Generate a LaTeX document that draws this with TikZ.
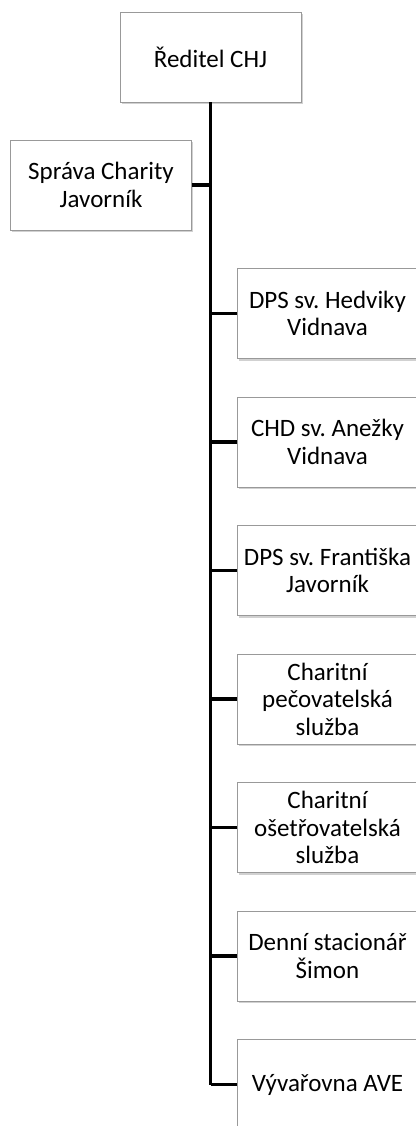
\documentclass[tikz,border=0pt]{standalone}
\usepackage{fontspec}
\setmainfont{Carlito}
\frenchspacing
\usetikzlibrary{shadows}
\begin{document}
\begin{tikzpicture}[x=1pt,y=1pt,
  orgbox/.style={draw=black!40, line width=0.8pt, fill=white, minimum width=181pt, minimum height=90pt,
     inner sep=0pt, align=center, font=\fontsize{25}{27.5}\selectfont,
     drop shadow={shadow xshift=1.5pt, shadow yshift=-2pt, fill=black!30, opacity=0.6}},
  link/.style={line width=3.5pt}]
\useasboundingbox (0,0) rectangle (415,-1126);
\node[orgbox] (top) at (210.5,-57) {Ředitel CHJ};
\node[orgbox] (sprava) at (101,-185) {Správa Charity\\Javorník};
\node[orgbox] (b1) at (327.5,-313.5) {DPS sv. Hedviky\\Vidnava};
\node[orgbox] (b2) at (327.5,-442) {CHD sv. Anežky\\Vidnava};
\node[orgbox] (b3) at (327.5,-570.5) {DPS sv. Františka\\Javorník};
\node[orgbox] (b4) at (327.5,-699) {Charitní\\pečovatelská\\služba};
\node[orgbox] (b5) at (327.5,-827.5) {Charitní\\ošetřovatelská\\služba};
\node[orgbox] (b6) at (327.5,-956) {Denní stacionář\\Šimon};
\node[orgbox] (b7) at (327.5,-1084.5) {Vývařovna AVE};
\coordinate (tend) at (top.south |- b7.west);
\draw[link] (top.south) -- (tend);
\draw[link] (sprava.east) -- (sprava.east -| top.south);
\foreach \n in {b1,b2,b3,b4,b5,b6,b7}{
  \draw[link] (\n.west) -- (\n.west -| top.south);
}
\draw[link, line cap=butt] (b7.west) -- (tend);
\end{tikzpicture}
\end{document}
